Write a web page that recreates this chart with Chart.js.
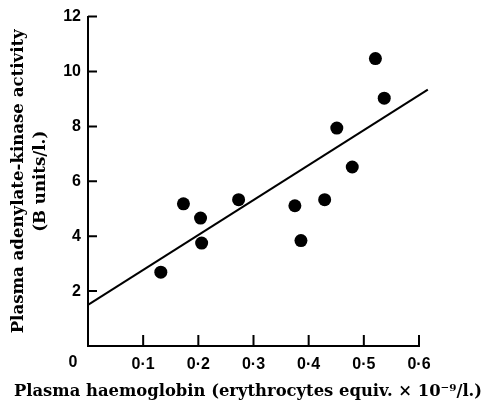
<!DOCTYPE html>
<html>
<head>
<meta charset="utf-8">
<script src="https://cdn.jsdelivr.net/npm/chart.js@4/dist/chart.umd.min.js"></script>
<style>
  html, body { margin: 0; padding: 0; background: #fff; }
  #wrap { width: 485px; height: 406px; position: relative; }
</style>
</head>
<body>
<div id="wrap"><canvas id="cv"></canvas></div>
<script>
// 관측값 (혈장 헤모글로빈 vs 아데닐산 키나아제)
const hbX  = [0.132, 0.173, 0.204, 0.206, 0.273, 0.375, 0.386, 0.429, 0.451, 0.479, 0.521, 0.537];
const akY  = [2.69, 5.18, 4.66, 3.75, 5.33, 5.11, 3.84, 5.33, 7.94, 6.52, 10.47, 9.03];
// 회귀선 양 끝
const fitX = [0, 0.616];
const fitY = [1.5, 9.34];
const xTicks = [0, 0.1, 0.2, 0.3, 0.4, 0.5, 0.6];
const yTicks = [0, 2, 4, 6, 8, 10, 12];

const xTitle = 'Plasma haemoglobin (erythrocytes equiv. \u00d7 10\u207b\u2079/l.)';
const yTitle = ['Plasma adenylate-kinase activity', '(B units/l.)'];

const tickFont  = { family: '"Liberation Sans", Arial, sans-serif', size: 16, weight: 'bold' };
const titleFont = { family: '"DejaVu Serif", serif', size: 16.6, weight: 'bold', lineHeight: 1.33 };

const dot = s => s.toFixed(1).replace('.', '\u00b7');

// 안쪽 눈금, 원점 '0', x축 제목
const axisExtras = {
  id: 'axisExtras',
  afterDraw(chart) {
    const { ctx, scales: { x, y } } = chart;
    const x0 = x.getPixelForValue(0), y0 = y.getPixelForValue(0);
    ctx.save();
    ctx.strokeStyle = '#000'; ctx.lineWidth = 2;
    ctx.beginPath();
    x.ticks.forEach(t => { if (t.value === 0) return; const px = x.getPixelForValue(t.value); ctx.moveTo(px, y0); ctx.lineTo(px, y0 - 11); });
    y.ticks.forEach(t => { if (t.value === 0) return; const py = y.getPixelForValue(t.value); ctx.moveTo(x0, py); ctx.lineTo(x0 + 9, py); });
    ctx.stroke();

    ctx.fillStyle = '#000';
    ctx.textAlign = 'center';
    ctx.textBaseline = 'middle';
    ctx.font = `bold ${tickFont.size}px ${tickFont.family}`;
    ctx.fillText('0', x0 - 15, 363);
    ctx.font = `bold 16.4px ${titleFont.family}`;
    ctx.fillText(xTitle, 248, 392);
    ctx.restore();
  }
};

new Chart(document.getElementById('cv'), {
  type: 'scatter',
  data: {
    datasets: [
      {
        data: hbX.map((v, i) => ({ x: v, y: akY[i] })),
        backgroundColor: '#000', borderColor: '#000',
        pointRadius: 6.5, pointHoverRadius: 6.5, borderWidth: 0,
      },
      {
        type: 'line',
        data: fitX.map((v, i) => ({ x: v, y: fitY[i] })),
        borderColor: '#000', borderWidth: 2, pointRadius: 0, fill: false, clip: false,
      },
    ],
  },
  options: {
    responsive: true, maintainAspectRatio: false, animation: false,
    layout: { padding: { top: 9, right: 66, left: 0, bottom: 0 } },
    plugins: { legend: { display: false }, tooltip: { enabled: false } },
    scales: {
      x: {
        type: 'linear', min: 0, max: 0.6,
        afterBuildTicks: s => { s.ticks = xTicks.map(v => ({ value: v })); },
        afterFit: s => { s.height = 60; },
        border: { display: true, color: '#000', width: 2 },
        grid: { drawOnChartArea: false, drawTicks: false },
        ticks: { color: '#000', font: tickFont, padding: 9, maxRotation: 0,
                 callback: v => v === 0 ? '' : dot(v) },
      },
      y: {
        type: 'linear', min: 0, max: 12,
        afterBuildTicks: s => { s.ticks = yTicks.map(v => ({ value: v })); },
        afterFit: s => { s.width = 88; },
        border: { display: true, color: '#000', width: 2 },
        grid: { drawOnChartArea: false, drawTicks: false },
        ticks: { color: '#000', font: tickFont, padding: 7,
                 callback: v => v === 0 ? '' : String(v) },
        title: { display: true, text: yTitle, color: '#000', font: titleFont,
                 padding: { top: 8, bottom: 0 } },
      },
    },
  },
  plugins: [axisExtras],
});
</script>
</body>
</html>
